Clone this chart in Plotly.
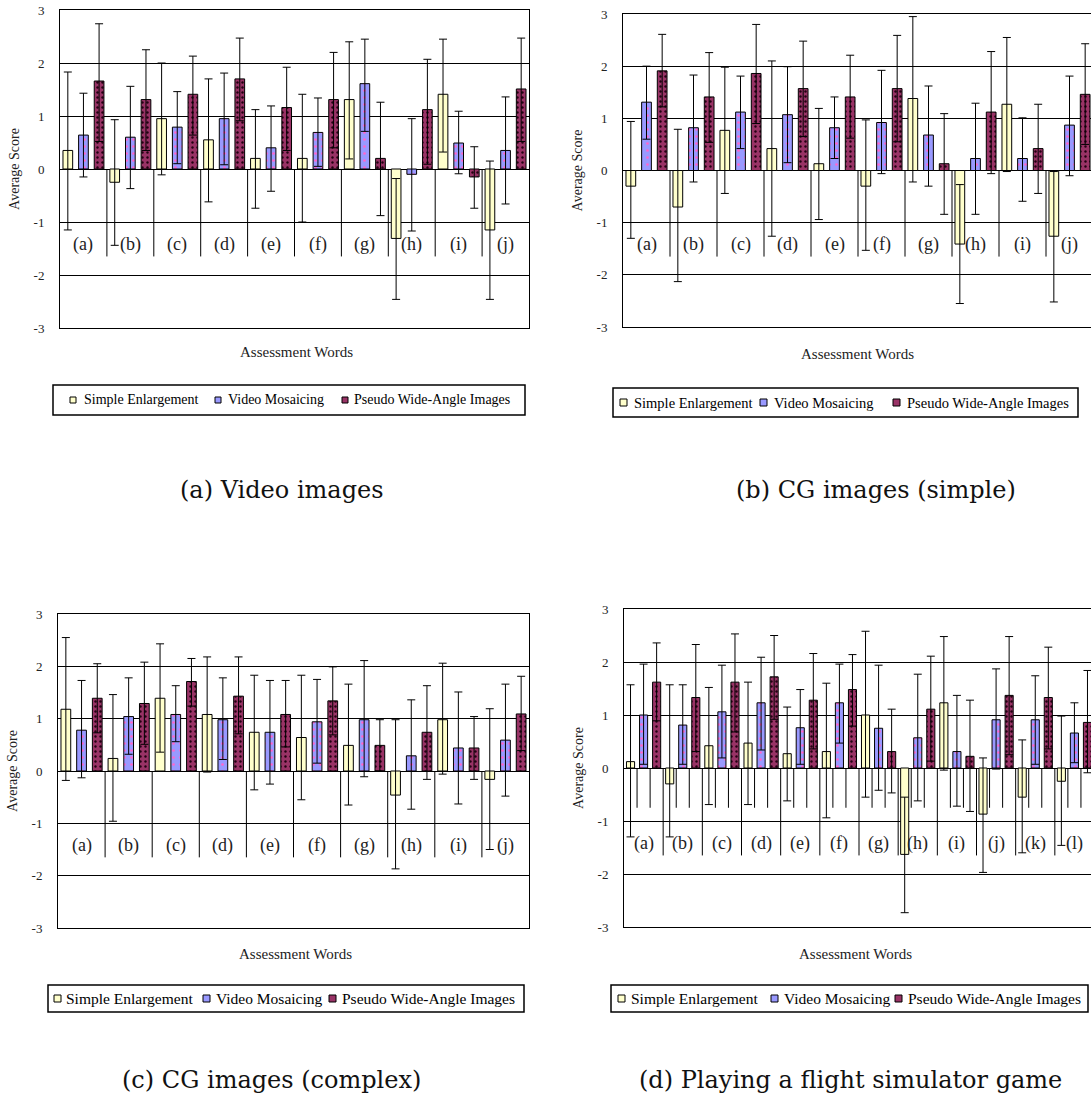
import plotly.graph_objects as go

# ---------------- data ----------------
cats10 = ["(a)", "(b)", "(c)", "(d)", "(e)", "(f)", "(g)", "(h)", "(i)", "(j)"]
cats12 = cats10 + ["(k)", "(l)"]
series_names = ["Simple Enlargement", "Video Mosaicing", "Pseudo Wide-Angle Images"]

# Panel (a) Video images
a_se = [0.35, -0.25, 0.95, 0.55, 0.20, 0.20, 1.31, -1.31, 1.41, -1.15]
a_se_hi = [1.83, 0.93, 2.00, 1.70, 1.12, 1.41, 2.40, -0.18, 2.45, 0.15]
a_se_lo = [-1.15, -1.44, -0.11, -0.62, -0.74, -1.00, 0.19, -2.46, 0.32, -2.46]
a_vm = [0.64, 0.60, 0.79, 0.95, 0.40, 0.69, 1.61, -0.10, 0.49, 0.35]
a_vm_hi = [1.43, 1.56, 1.46, 1.81, 1.19, 1.34, 2.45, 0.95, 1.09, 1.36]
a_vm_lo = [-0.15, -0.37, 0.10, 0.08, -0.42, 0.05, 0.71, -1.17, -0.09, -0.66]
a_pw = [1.66, 1.31, 1.41, 1.70, 1.16, 1.31, 0.20, 1.12, -0.15, 1.51]
a_pw_hi = [2.74, 2.25, 2.13, 2.47, 1.92, 2.20, 1.26, 2.07, 0.42, 2.47]
a_pw_lo = [0.52, 0.35, 0.64, 0.91, 0.35, 0.40, -0.88, 0.09, -0.74, 0.52]

# Panel (b) CG images (simple)
b_se = [-0.30, -0.70, 0.77, 0.42, 0.13, -0.30, 1.38, -1.41, 1.27, -1.26]
b_se_hi = [0.94, 0.79, 1.98, 2.10, 1.19, 0.97, 2.95, -0.27, 2.55, -0.02]
b_se_lo = [-1.30, -2.13, -0.44, -1.26, -0.94, -1.53, -0.22, -2.55, -0.02, -2.52]
b_vm = [1.31, 0.82, 1.12, 1.07, 0.82, 0.92, 0.68, 0.23, 0.23, 0.87]
b_vm_hi = [2.00, 1.83, 1.81, 1.99, 1.41, 1.92, 1.62, 1.29, 1.01, 1.81]
b_vm_lo = [0.60, -0.22, 0.42, 0.15, 0.23, -0.06, -0.30, -0.84, -0.59, -0.10]
b_pw = [1.91, 1.41, 1.86, 1.57, 1.41, 1.57, 0.13, 1.12, 0.42, 1.46]
b_pw_hi = [2.61, 2.26, 2.80, 2.48, 2.21, 2.59, 1.09, 2.28, 1.27, 2.43]
b_pw_lo = [1.22, 0.54, 0.90, 0.65, 0.62, 0.55, -0.84, -0.06, -0.44, 0.50]

# Panel (c) CG images (complex)
c_se = [1.18, 0.24, 1.39, 1.08, 0.74, 0.64, 0.49, -0.46, 0.98, -0.16]
c_se_hi = [2.55, 1.46, 2.43, 2.18, 1.83, 1.83, 1.66, 0.98, 2.06, 1.19]
c_se_lo = [-0.18, -0.96, 0.36, -0.02, -0.36, -0.55, -0.65, -1.87, -0.06, -1.50]
c_vm = [0.78, 1.04, 1.08, 0.98, 0.74, 0.94, 0.98, 0.29, 0.44, 0.59]
c_vm_hi = [1.73, 1.78, 1.63, 1.78, 1.73, 1.75, 2.11, 1.36, 1.51, 1.66]
c_vm_lo = [-0.13, 0.32, 0.56, 0.22, -0.25, 0.15, -0.11, -0.73, -0.63, -0.48]
c_pw = [1.39, 1.29, 1.71, 1.43, 1.08, 1.34, 0.49, 0.74, 0.44, 1.09]
c_pw_hi = [2.05, 2.08, 2.15, 2.18, 1.73, 1.99, 0.98, 1.63, 1.04, 1.81]
c_pw_lo = [0.73, 0.51, 1.24, 0.71, 0.46, 0.69, 0.00, -0.16, -0.16, 0.39]

# Panel (d) Playing a flight simulator game
d_se = [0.12, -0.30, 0.42, 0.47, 0.27, 0.31, 1.00, -1.63, 1.23, -0.87, -0.55, -0.25]
d_se_hi = [1.57, 1.57, 1.52, 1.62, 1.15, 1.60, 2.58, -0.55, 2.48, 0.19, 0.53, 0.98]
d_se_lo = [-1.30, -1.30, -0.69, -0.69, -0.62, -0.94, -0.55, -2.73, -0.04, -1.97, -1.60, -1.46]
d_vm = [1.00, 0.81, 1.06, 1.23, 0.76, 1.23, 0.75, 0.57, 0.31, 0.91, 0.91, 0.66]
d_vm_hi = [1.96, 1.57, 1.94, 2.09, 1.48, 1.96, 1.94, 1.77, 1.37, 1.87, 1.74, 1.23]
d_vm_lo = [0.07, 0.07, 0.19, 0.34, 0.07, 0.47, -0.42, -0.62, -0.72, -0.02, 0.07, 0.10]
d_pw = [1.62, 1.33, 1.62, 1.72, 1.28, 1.48, 0.31, 1.11, 0.22, 1.37, 1.33, 0.86]
d_pw_hi = [2.36, 2.33, 2.53, 2.50, 2.16, 2.14, 1.11, 2.11, 1.28, 2.48, 2.28, 1.84]
d_pw_lo = [0.89, 0.31, 0.68, 0.92, 0.36, 0.79, -0.47, 0.13, -0.82, 0.25, 0.36, -0.09]

y_ticks = [-3, -2, -1, 0, 1, 2, 3]
captions = ["(a) Video images", "(b) CG images (simple)",
            "(c) CG images (complex)", "(d) Playing a flight simulator game"]

# ---------------- styling ----------------
SERIF = "Liberation Serif"
W, H = 1091, 1103
fill_colors = ["#FFFFCC", "#9999FF", "#993366"]
patterns = [
    None,
    dict(shape=".", fgcolor="#FF66CC", bgcolor="#9999FF", size=7, solidity=0.12, fillmode="replace"),
    dict(shape=".", fgcolor="#220011", bgcolor="#993366", size=5, solidity=0.18, fillmode="replace"),
]


def px_x(p):
    return p / W


def px_y(p):
    return 1 - p / H


panels = [
    dict(cats=cats10, data=[(a_se, a_se_hi, a_se_lo), (a_vm, a_vm_hi, a_vm_lo), (a_pw, a_pw_hi, a_pw_lo)],
         xpx=(60, 529), ypx=(10, 328), right_cut=False,
         legend_box=(53, 525, 385, 415), legend_sym=(70, 215, 342), legend_txt=(82, 226, 352),
         lsym=6, lfs=14, title_c=(296, 352), cap_c=(282, 490), inner=False),
    dict(cats=cats10, data=[(b_se, b_se_hi, b_se_lo), (b_vm, b_vm_hi, b_vm_lo), (b_pw, b_pw_hi, b_pw_lo)],
         xpx=(623, 1093), ypx=(14, 327), right_cut=True,
         legend_box=(613, 1078, 388, 417), legend_sym=(620, 760, 893), legend_txt=(632, 772, 905),
         lsym=7, lfs=14.5, title_c=(857, 354), cap_c=(876, 490), inner=False),
    dict(cats=cats10, data=[(c_se, c_se_hi, c_se_lo), (c_vm, c_vm_hi, c_vm_lo), (c_pw, c_pw_hi, c_pw_lo)],
         xpx=(58, 529), ypx=(614, 928), right_cut=False,
         legend_box=(48, 524, 985, 1012), legend_sym=(54, 203, 329), legend_txt=(64, 214, 340),
         lsym=7, lfs=15.5, title_c=(295, 954), cap_c=(271, 1080), inner=False),
    dict(cats=cats12, data=[(d_se, d_se_hi, d_se_lo), (d_vm, d_vm_hi, d_vm_lo), (d_pw, d_pw_hi, d_pw_lo)],
         xpx=(624, 1094), ypx=(609, 927), right_cut=True,
         legend_box=(611, 1088, 985, 1012), legend_sym=(618, 771, 895), legend_txt=(629, 782, 906),
         lsym=7, lfs=15.5, title_c=(855, 954), cap_c=(851, 1080), inner=True),
]

fig = go.Figure()
layout = dict(width=W, height=H, margin=dict(l=0, r=0, t=0, b=0, autoexpand=False),
              paper_bgcolor="white", plot_bgcolor="white",
              barmode="group", bargap=0.0, bargroupgap=0.38,
              showlegend=False, shapes=[], annotations=[])

for k, p in enumerate(panels):
    n = k + 1
    sfx = "" if n == 1 else str(n)
    xa, ya = "x" + sfx, "y" + sfx
    ncat = len(p["cats"])
    xs = list(range(ncat))
    group_px = (p["xpx"][1] - p["xpx"][0]) / ncat
    x0, x1 = p["xpx"]
    if p["right_cut"]:
        xmax = -0.5 + (W - x0) / group_px
        xdom = [px_x(x0), 1.0]
    else:
        xmax = ncat - 0.5
        xdom = [px_x(x0), px_x(x1)]
    ydom = [px_y(p["ypx"][1]), px_y(p["ypx"][0])]

    for si, (vals, hi, lo) in enumerate(p["data"]):
        marker = dict(color=fill_colors[si], line=dict(color="black", width=1))
        if patterns[si]:
            marker["pattern"] = patterns[si]
        fig.add_trace(go.Bar(
            x=xs, y=vals, name=series_names[si], xaxis=xa, yaxis=ya, showlegend=False,
            offsetgroup=str(si), marker=marker,
            error_y=dict(type="data", symmetric=False,
                         array=[h - v for h, v in zip(hi, vals)],
                         arrayminus=[v - l for v, l in zip(vals, lo)],
                         color="black", thickness=1, width=4),
        ))

    layout["xaxis" + sfx] = dict(domain=xdom, range=[-0.5, xmax], anchor=ya, automargin=False,
                                  showticklabels=False, showgrid=False, zeroline=False,
                                  showline=True, linecolor="black", linewidth=1, mirror=True,
                                  ticks="")
    layout["yaxis" + sfx] = dict(domain=ydom, range=[-3, 3], anchor=xa, automargin=False,
                                  tickvals=y_ticks, ticktext=[str(t) for t in y_ticks],
                                  showgrid=True, gridcolor="black", gridwidth=1,
                                  zeroline=True, zerolinecolor="black", zerolinewidth=1,
                                  showline=True, linecolor="black", linewidth=1,
                                  mirror=not p["right_cut"], ticks="",
                                  ticklabelstandoff=12,
                                  tickfont=dict(family=SERIF, size=13, color="#222"),
                                  title=dict(text="Average Score", standoff=10,
                                             font=dict(family=SERIF, size=14, color="#222")))

    # group separators (category axis ticks)
    for i in range(ncat - 1):
        layout["shapes"].append(dict(type="line", xref=xa, yref=ya, x0=i + 0.5, x1=i + 0.5,
                                     y0=0, y1=-1.65, line=dict(color="black", width=1)))
    if p["inner"]:
        for i in range(ncat):
            for off in (-1 / 6, 1 / 6):
                layout["shapes"].append(dict(type="line", xref=xa, yref=ya, x0=i + off, x1=i + off,
                                             y0=0, y1=-0.75, line=dict(color="black", width=1)))
    # category labels
    for i, c in enumerate(p["cats"]):
        layout["annotations"].append(dict(x=i, y=-1.42, xref=xa, yref=ya, text=c, showarrow=False,
                                          font=dict(family=SERIF, size=18, color="#222")))
    # x title
    layout["annotations"].append(dict(x=px_x(p["title_c"][0]), y=px_y(p["title_c"][1]),
                                      xref="paper", yref="paper", text="Assessment Words",
                                      showarrow=False, xanchor="center", yanchor="middle",
                                      font=dict(family=SERIF, size=15, color="#222")))
    # legend (drawn as box + swatches + labels)
    bx0, bx1, by0, by1 = p["legend_box"]
    layout["shapes"].append(dict(type="rect", xref="paper", yref="paper",
                                 x0=px_x(bx0), x1=px_x(bx1), y0=px_y(by1), y1=px_y(by0),
                                 line=dict(color="black", width=1.5), fillcolor="white"))
    ymid = (by0 + by1) / 2
    s = p["lsym"]
    for si in range(3):
        sx = p["legend_sym"][si]
        layout["shapes"].append(dict(type="rect", xref="paper", yref="paper",
                                     x0=px_x(sx), x1=px_x(sx + s),
                                     y0=px_y(ymid + s / 2), y1=px_y(ymid - s / 2),
                                     line=dict(color="black", width=1), fillcolor=fill_colors[si]))
        layout["annotations"].append(dict(x=px_x(p["legend_txt"][si]), y=px_y(ymid),
                                          xref="paper", yref="paper", text=series_names[si],
                                          showarrow=False, xanchor="left", yanchor="middle",
                                          font=dict(family=SERIF, size=p["lfs"], color="black")))
    # caption
    layout["annotations"].append(dict(x=px_x(p["cap_c"][0]), y=px_y(p["cap_c"][1]),
                                      xref="paper", yref="paper", text=captions[k],
                                      showarrow=False, xanchor="center", yanchor="middle",
                                      font=dict(family="DejaVu Serif", size=24, color="#111")))

fig.update_layout(**layout)
fig.write_html("out.html", config={"displayModeBar": False},
               post_script="document.body.style.margin='0';document.body.style.overflow='hidden';")
